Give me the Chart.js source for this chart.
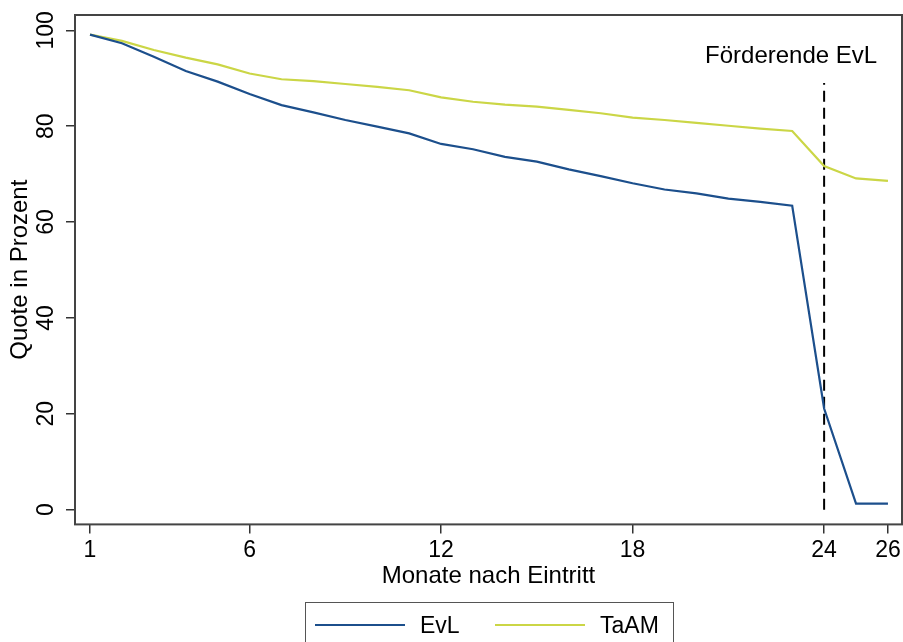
<!DOCTYPE html>
<html>
<head>
<meta charset="utf-8">
<script src="https://cdn.jsdelivr.net/npm/chart.js@4"></script>
<style>
html,body{margin:0;padding:0;background:#fff;}
canvas{display:block;}
</style>
</head>
<body>
<canvas id="c" width="903" height="642"></canvas>
<script>
// ---- data ----
const months = [1,2,3,4,5,6,7,8,9,10,11,12,13,14,15,16,17,18,19,20,21,22,23,24,25,26];
const evl  = [99.1,97.3,94.5,91.5,89.3,86.7,84.4,82.9,81.3,79.9,78.5,76.3,75.2,73.6,72.6,71.0,69.6,68.1,66.8,66.0,64.9,64.2,63.4,21.1,1.25,1.25];
const taam = [99.1,97.8,95.9,94.3,92.9,91.0,89.8,89.4,88.8,88.2,87.5,86.0,85.1,84.5,84.1,83.4,82.7,81.8,81.3,80.7,80.1,79.5,79.0,71.7,69.1,68.6];
const xTicks = [1,6,12,18,24,26];
const yTicks = [0,20,40,60,80,100];
const markerX = [24,24];
const markerY = [0,89];
const seriesNames = ['EvL','TaAM'];
const annotationText = 'Förderende EvL';
const xTitle = 'Monate nach Eintritt';
const yTitle = 'Quote in Prozent';

const FONT = '"Liberation Sans", Arial, sans-serif';
const FS = 23;
const TFS = 24;
const BLUE = '#1c4f8c';
const YELLOW = '#cbd646';

const toPts = (xs, ys) => xs.map((x,i)=>({x:x, y:ys[i]}));

const custom = {
  id: 'custom',
  afterDraw(chart) {
    const ctx = chart.ctx;
    const a = chart.chartArea;
    const ys = chart.scales.y, xs = chart.scales.x;
    ctx.save();
    // frame
    ctx.strokeStyle = '#444';
    ctx.lineWidth = 2;
    ctx.strokeRect(a.left, a.top, a.right - a.left, a.bottom - a.top);
    // rotated y tick labels
    ctx.fillStyle = '#000';
    ctx.font = FS + 'px ' + FONT;
    ctx.textAlign = 'center';
    ctx.textBaseline = 'middle';
    yTicks.forEach(v => {
      const py = ys.getPixelForValue(v);
      ctx.save();
      ctx.translate(47, py);
      ctx.rotate(-Math.PI/2);
      ctx.fillText(String(v), 0, 0);
      ctx.restore();
    });
    // annotation
    ctx.textAlign = 'center';
    ctx.textBaseline = 'alphabetic';
    ctx.font = '24px ' + FONT;
    ctx.fillText(annotationText, xs.getPixelForValue(24) - 33, 63);
    // legend
    ctx.strokeStyle = '#555';
    ctx.lineWidth = 1;
    ctx.strokeRect(305.5, 602.5, 368, 60);
    ctx.lineWidth = 2;
    ctx.strokeStyle = BLUE;
    ctx.beginPath(); ctx.moveTo(315, 625); ctx.lineTo(405, 625); ctx.stroke();
    ctx.strokeStyle = YELLOW;
    ctx.beginPath(); ctx.moveTo(495, 625); ctx.lineTo(585, 625); ctx.stroke();
    ctx.fillStyle = '#000';
    ctx.font = FS + 'px ' + FONT;
    ctx.textAlign = 'left';
    ctx.fillText(seriesNames[0], 420, 633);
    ctx.fillText(seriesNames[1], 600, 633);
    ctx.restore();
  }
};

new Chart(document.getElementById('c'), {
  type: 'line',
  data: {
    datasets: [
      { label: seriesNames[0], data: toPts(months, evl), borderColor: BLUE, borderWidth: 2.2, pointRadius: 0, tension: 0, fill: false },
      { label: seriesNames[1], data: toPts(months, taam), borderColor: YELLOW, borderWidth: 2.2, pointRadius: 0, tension: 0, fill: false },
      { label: 'marker', data: toPts(markerX, markerY), borderColor: '#000', borderWidth: 2, borderDash: [11,6], pointRadius: 0, fill: false }
    ]
  },
  options: {
    responsive: false,
    animation: false,
    devicePixelRatio: 1,
    layout: { padding: { left: 0, right: 1, top: 15, bottom: 51 } },
    plugins: { legend: { display: false }, tooltip: { enabled: false } },
    scales: {
      x: {
        type: 'linear',
        min: 0.53, max: 26.44,
        afterBuildTicks: s => { s.ticks = xTicks.map(v => ({value: v})); },
        afterFit: s => { s.height = 66.6; s.paddingLeft = 0; s.paddingRight = 0; },
        grid: { drawOnChartArea: false, drawTicks: true, tickLength: 9, color: '#333', lineWidth: 1.5 },
        border: { display: false },
        ticks: { autoSkip: false, maxRotation: 0, minRotation: 0, padding: 3, color: '#000', font: { family: FONT, size: FS }, callback: v => String(v) },
        title: { display: true, text: xTitle, color: '#000', font: { family: FONT, size: TFS }, padding: { top: 0, bottom: 0 } }
      },
      y: {
        type: 'linear',
        min: -3.07, max: 103.2,
        afterBuildTicks: s => { s.ticks = yTicks.map(v => ({value: v})); },
        afterFit: s => { s.width = 75; s.paddingTop = 0; s.paddingBottom = 0; },
        grid: { drawOnChartArea: false, drawTicks: true, tickLength: 9, color: '#333', lineWidth: 1.5 },
        border: { display: false },
        ticks: { display: false },
        title: { display: true, text: yTitle, color: '#000', font: { family: FONT, size: TFS }, padding: { top: 6, bottom: 0 } }
      }
    }
  },
  plugins: [custom]
});
</script>
</body>
</html>
